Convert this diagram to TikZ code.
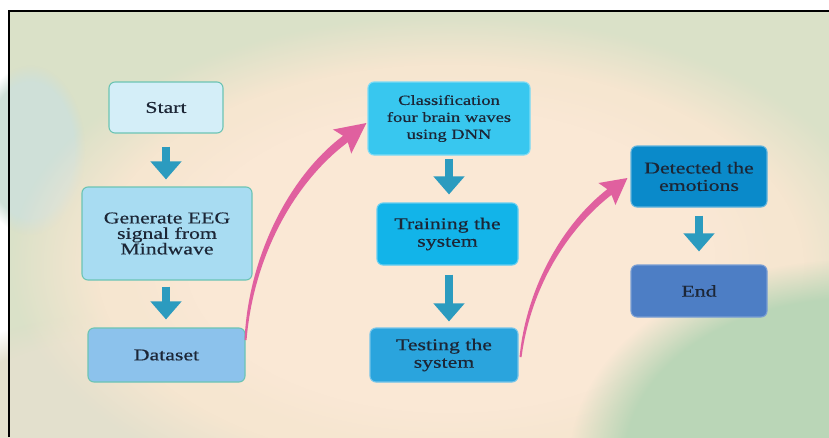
\documentclass[tikz,border=0pt]{standalone}
\usepackage{fontspec}
\setmainfont[FakeStretch=1.32,FakeBold=0.5]{Liberation Serif}
\usetikzlibrary{calc,arrows.meta,fadings}
\definecolor{bgG}{HTML}{DAE1C8}
\definecolor{bgT}{HTML}{CFE0D8}
\definecolor{bgB}{HTML}{F6E6D0}
\definecolor{bgB2}{HTML}{FAE8D5}
\definecolor{bgL}{HTML}{E3E0CD}
\definecolor{bgR}{HTML}{BAD6B7}
\definecolor{txt}{HTML}{1C2636}
\definecolor{bTeal}{HTML}{6CC4B4}
\definecolor{cStart}{HTML}{D4EEF8}
\definecolor{cGen}{HTML}{A8DCF2}
\definecolor{cData}{HTML}{8CC2EC}
\definecolor{cClass}{HTML}{38C7EF}
\definecolor{cTrain}{HTML}{12B4E9}
\definecolor{cTest}{HTML}{2AA4DD}
\definecolor{cDet}{HTML}{0A8ACA}
\definecolor{cEnd}{HTML}{4D7EC5}
\definecolor{tArrow}{HTML}{2B9BBF}
\definecolor{pArrow}{HTML}{E0609F}
\tikzset{
  box/.style={draw, rounded corners=6pt, line width=1.1pt, inner sep=0pt,
    align=center, text=txt, font=\fontsize{16.5}{17.5}\selectfont},
  tarrow/.style={draw=tArrow, line width=8pt,
    -{Triangle[width=30pt,length=18pt]}},
  fuzzy/.style={path fading=circle with fuzzy edge 20 percent}
}
\begin{document}
\begin{tikzpicture}[x=1pt,y=-1pt]
\useasboundingbox (0,0) rectangle (829,437);
% background
\fill[white] (0,0) rectangle (829,437);
\fill[bgG] (8,10) rectangle (829,437);
\fill[bgL, fuzzy] (150,430) ellipse (260 and 120);
\fill[bgT, fuzzy] (30,150) ellipse (55 and 85);
\fill[bgB, fuzzy] (450,265) ellipse (440 and 250);
\fill[bgB2, fuzzy] (450,260) ellipse (330 and 190);
\fill[bgR, fuzzy] (850,460) ellipse (280 and 200);
\draw[line width=1.6pt, black] (8.8,437) -- (8.8,10.8) -- (829,10.8);

% nodes
\node[box, fill=cStart, draw=bTeal, minimum width=114pt, minimum height=51pt] (start) at (166,107.5) {Start};
\node[box, fill=cGen, draw=bTeal, minimum width=170pt, minimum height=93pt,
  font=\fontsize{16.5}{15.5}\selectfont] (gen) at (167,233.5) {Generate EEG\\signal from\\Mindwave};
\node[box, fill=cData, draw=bTeal, minimum width=157pt, minimum height=54pt] (data) at (166.5,355) {Dataset};
\node[box, fill=cClass, draw=cClass!65!white, minimum width=162pt, minimum height=73pt,
  font=\fontsize{14}{17}\selectfont] (class) at (449,118.5) {Classification\\four brain waves\\using DNN};
\node[box, fill=cTrain, draw=cTrain!65!white, minimum width=141pt, minimum height=62pt] (train) at (447.5,234) {Training the\\system};
\node[box, fill=cTest, draw=cTest!65!white, minimum width=148pt, minimum height=54pt] (test) at (444,355) {Testing the\\system};
\node[box, fill=cDet, draw=cDet!65!white, minimum width=136pt, minimum height=61pt] (det) at (699,176.5) {Detected the\\emotions};
\node[box, fill=cEnd, draw=cEnd!75!white, minimum width=136pt, minimum height=52pt] (end) at (699,291) {End};

% teal arrows
\draw[tarrow, shorten <=13pt, shorten >=7pt] (start.south) -- (start.south |- gen.north);
\draw[tarrow, shorten <=6pt, shorten >=8pt] (start.south |- gen.south) -- (start.south |- data.north);
\draw[tarrow, shorten <=3pt, shorten >=8pt] (class.south) -- (class.south |- train.north);
\draw[tarrow, shorten <=9pt, shorten >=6pt] (class.south |- train.south) -- (class.south |- test.north);
\draw[tarrow, shorten <=8pt, shorten >=13pt] (det.south) -- (det.south |- end.north);

% pink arrow 1: Dataset -> Classification
\coordinate (s1) at ($(data.east)+(0,-15)$);
\coordinate (t1) at ($(class.west)+(-1,4.5)$);
\coordinate (h1) at ($(t1)+(-21,16)$);
\coordinate (c1a) at ($(s1)+(5,-80)$);
\coordinate (c1b) at ($(h1)+(-56,42)$);
\fill[pArrow] ($(s1)+(-1,0)$) .. controls ($(c1a)+(-2.5,0)$) and ($(c1b)+(-2.4,-3.2)$) .. ($(h1)+(-2.4,-3.2)$)
  -- ($(h1)+(-12.5,-9.5)$) -- (t1) -- ($(h1)+(5.8,14.6)$) -- ($(h1)+(2.4,3.2)$)
  .. controls ($(c1b)+(2.4,3.2)$) and ($(c1a)+(2.5,0)$) .. ($(s1)+(1,0)$) -- cycle;

% pink arrow 2: Testing -> Detected
\coordinate (s2) at ($(test.east)+(2,2)$);
\coordinate (t2) at ($(det.west)+(-3,1.5)$);
\coordinate (h2) at ($(t2)+(-18,14)$);
\coordinate (c2a) at ($(s2)+(8,-70)$);
\coordinate (c2b) at ($(h2)+(-44,34)$);
\fill[pArrow] ($(s2)+(-1,0)$) .. controls ($(c2a)+(-2.2,0)$) and ($(c2b)+(-2.1,-2.8)$) .. ($(h2)+(-2.1,-2.8)$)
  -- ($(h2)+(-11,-9)$) -- (t2) -- ($(h2)+(6,13)$) -- ($(h2)+(2.1,2.8)$)
  .. controls ($(c2b)+(2.1,2.8)$) and ($(c2a)+(2.2,0)$) .. ($(s2)+(1,0)$) -- cycle;
\end{tikzpicture}
\end{document}
